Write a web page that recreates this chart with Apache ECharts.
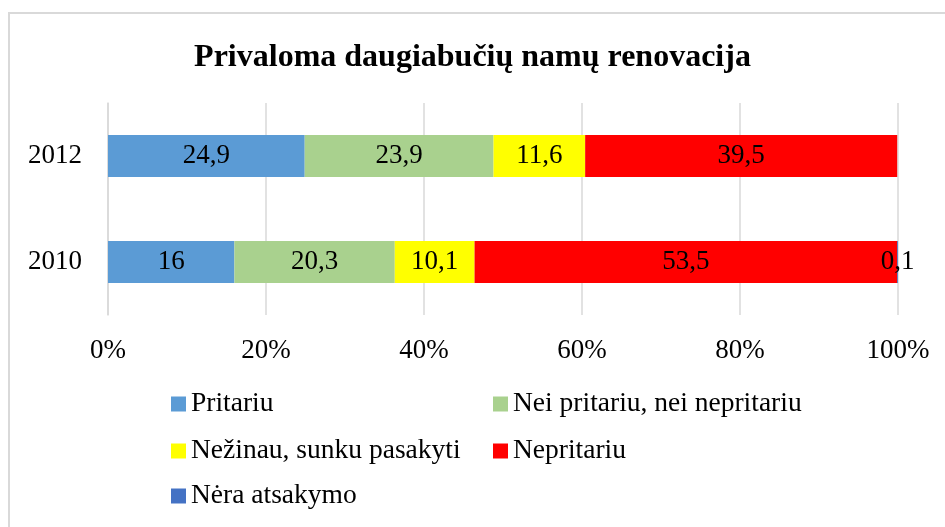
<!DOCTYPE html>
<html>
<head>
<meta charset="utf-8">
<script src="https://cdn.jsdelivr.net/npm/echarts@6/dist/echarts.min.js"></script>
<style>html,body{margin:0;padding:0;background:#fff}#c{width:945px;height:527px}</style>
</head>
<body>
<div id="c"></div>
<script>
var categories = ['2010', '2012'];
var seriesNames = ['Pritariu', 'Nei pritariu, nei nepritariu', 'Nežinau, sunku pasakyti', 'Nepritariu', 'Nėra atsakymo'];
var pritariu = [16, 24.9];
var neiPritariu = [20.3, 23.9];
var nezinau = [10.1, 11.6];
var nepritariu = [53.5, 39.5];
var neraAtsakymo = [0.1, 0];
var xTickValues = [0, 20, 40, 60, 80, 100];
var colors = ['#5B9BD5', '#A9D18E', '#FFFF00', '#FF0000', '#4472C4'];

var FONT = '"Liberation Serif", "Times New Roman", serif';
var values = [pritariu, neiPritariu, nezinau, nepritariu, neraAtsakymo];

var series = seriesNames.map(function (n, i) {
  return {
    name: n,
    type: 'bar',
    stack: 'total',
    barWidth: 42,
    data: values[i],
    itemStyle: { color: colors[i] },
    label: {
      show: true,
      position: 'inside',
      color: '#000',
      fontFamily: FONT,
      fontSize: 27,
      formatter: function (p) {
        if (!p.value) return '';
        return String(p.value).replace('.', ',');
      }
    }
  };
});

var legendPos = [
  { left: 171, top: 389 },
  { left: 493, top: 389 },
  { left: 171, top: 436 },
  { left: 493, top: 436 },
  { left: 171, top: 481 }
];
var legends = seriesNames.map(function (n, i) {
  return {
    data: [n],
    left: legendPos[i].left,
    top: legendPos[i].top,
    padding: 0,
    itemWidth: 15,
    itemHeight: 15,
    icon: 'rect',
    selectedMode: false,
    textStyle: { fontFamily: FONT, fontSize: 27.5, color: '#000', lineHeight: 30 }
  };
});

var chart = echarts.init(document.getElementById('c'));
chart.setOption({
  animation: false,
  backgroundColor: '#fff',
  title: {
    text: 'Privaloma daugiabučių namų renovacija',
    left: 'center',
    top: 37,
    textStyle: { fontFamily: FONT, fontSize: 32, fontWeight: 'bold', color: '#000' }
  },
  graphic: [{
    type: 'rect',
    shape: { x: 9, y: 13, width: 1000, height: 600 },
    style: { fill: 'none', stroke: '#d9d9d9', lineWidth: 2 },
    silent: true
  }],
  legend: legends,
  grid: { left: 108, right: 47, top: 103, bottom: 212, containLabel: false },
  xAxis: {
    type: 'value',
    min: xTickValues[0],
    max: xTickValues[xTickValues.length - 1],
    interval: xTickValues[1] - xTickValues[0],
    axisLine: { show: false },
    axisTick: { show: false },
    splitLine: { show: true, lineStyle: { color: '#d9d9d9', width: 1.5 } },
    axisLabel: {
      margin: 22,
      color: '#000',
      fontFamily: FONT,
      fontSize: 27,
      formatter: '{value}%'
    }
  },
  yAxis: {
    type: 'category',
    data: categories,
    axisLine: { show: true, lineStyle: { color: '#d9d9d9', width: 1.5 } },
    axisTick: { show: false },
    axisLabel: { margin: 26, color: '#000', fontFamily: FONT, fontSize: 27 }
  },
  series: series
});
</script>
</body>
</html>
